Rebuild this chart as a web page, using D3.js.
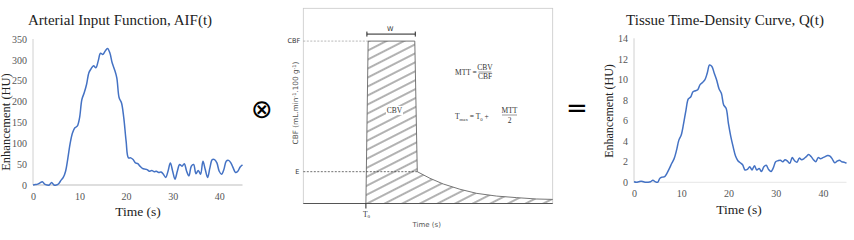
<!DOCTYPE html>
<html>
<head>
<meta charset="utf-8">
<script src="https://cdn.jsdelivr.net/npm/d3@7"></script>
<style>
  body { margin: 0; background: #fff; }
  svg { display: block; }
</style>
</head>
<body>
<svg width="854" height="240"></svg>
<script>
// time samples (s), shared by both measured curves
const timeSec = [0,0.5,1,1.5,2,2.5,3,3.5,4,4.5,5,5.5,6,6.5,7,7.5,8,8.5,9,9.5,
  10,10.5,11,11.5,12,12.5,13,13.5,14,14.5,15,15.5,16,16.5,17,17.5,18,18.5,19,19.5,
  20,20.5,21,21.5,22,22.5,23,23.5,24,24.5,25,25.5,26,26.5,27,27.5,28,28.5,29,29.5,
  30,30.5,31,31.5,32,32.5,33,33.5,34,34.5,35,35.5,36,36.5,37,37.5,38,38.5,39,39.5,
  40,40.5,41,41.5,42,42.5,43,43.5,44,44.5,45];

// AIF enhancement (HU)
const aifValues = [0,1,2,5,8,2,0,0,6,0,0,3,11,18,33,65,101,125,137,141,
  161,205,221,241,269,279,286,281,297,316,313,321,327,317,293,277,257,209,197,161,
  105,65,65,61,53,51,45,40,38,37,33,35,32,33,30,31,26,18,33,53,
  33,14,33,49,45,51,33,22,45,49,27,35,26,57,37,18,41,61,61,53,
  33,26,37,57,59,53,41,30,33,43,48];

// tissue enhancement (HU)
const tissueValues = [0.05,0,0.05,0.1,0.05,0,0,0.05,0.2,0.05,0,0.4,0.5,0.55,0.9,1.35,1.85,2.3,3.1,4.1,
  4.6,5.7,7.0,8.1,8.3,8.8,8.9,9.0,9.5,9.7,9.95,10.6,11.4,11.25,10.6,9.95,9.1,8.65,7.5,7.2,
  5.7,4.45,3.45,2.55,2.1,1.9,1.7,1.2,1.25,1.5,1.2,1.6,1.2,1.35,1.05,1.5,1.65,1.25,1.05,1.4,
  2.0,2.1,2.15,2.0,2.2,2.05,1.85,2.4,2.1,1.95,2.35,2.2,2.3,2.5,2.7,2.5,2.2,2.0,2.4,2.3,
  2.4,2.5,2.6,2.55,2.25,1.9,2.05,2.15,2.0,1.95,1.85];

const aifTicksX = [0,10,20,30,40];
const aifTicksY = [0,50,100,150,200,250,300,350];
const tissueTicksX = [0,10,20,30,40];
const tissueTicksY = [0,2,4,6,8,10,12,14];

// residue function sketch (arbitrary units: time 0-100, flow 0-1)
const residueTime  = [25.1, 26.0, 44.7, 45.7, 50.8, 56.1, 62.8, 69.5, 77.5, 85.6, 93.6, 100];
const residueValue = [0, 0.832, 0.832, 0.163, 0.129, 0.100, 0.073, 0.052, 0.038, 0.030, 0.023, 0.021];
const t0 = 25.1, wEnd = 44.7, cbfLevel = 0.832, eLevel = 0.163;

const svg = d3.select('svg');
const blue = '#4472c4';
const serif = '"Liberation Serif", "Times New Roman", serif';
const sans = '"DejaVu Sans", Verdana, sans-serif';

svg.append('rect').attr('width', 854).attr('height', 240).attr('fill', '#fff');

function drawPanel(opt) {
  const x = d3.scaleLinear().domain([0, 45]).range(opt.xr);
  const y = d3.scaleLinear().domain([0, opt.ymax]).range(opt.yr);
  const g = svg.append('g');

  // axis lines
  g.append('line')
    .attr('x1', x(0)).attr('x2', x(0)).attr('y1', y(0)).attr('y2', y(opt.ymax))
    .attr('stroke', '#d0d0d0').attr('stroke-width', 1);
  g.append('line')
    .attr('x1', x(0)).attr('x2', x(45)).attr('y1', y(0)).attr('y2', y(0))
    .attr('stroke', opt.xAxisColor).attr('stroke-width', 1);

  const xAxis = g.append('g')
    .attr('transform', `translate(0,${y(0)})`)
    .call(d3.axisBottom(x).tickValues(opt.ticksX).tickSize(0).tickPadding(opt.xPad));
  const yAxis = g.append('g')
    .attr('transform', `translate(${x(0)},0)`)
    .call(d3.axisLeft(y).tickValues(opt.ticksY).tickSize(0).tickPadding(opt.yPad));
  [xAxis, yAxis].forEach(a => {
    a.select('.domain').remove();
    a.selectAll('text')
      .attr('font-family', serif).attr('font-size', 10).attr('fill', '#555');
  });

  const line = d3.line()
    .x((d, i) => x(timeSec[i]))
    .y(d => y(d))
    .curve(d3.curveCatmullRom.alpha(0.5));
  g.append('path')
    .datum(opt.values)
    .attr('fill', 'none')
    .attr('stroke', blue)
    .attr('stroke-width', 1.5)
    .attr('d', line);

  g.append('text')
    .attr('x', opt.titleX).attr('y', 25)
    .attr('text-anchor', 'middle')
    .attr('font-family', serif).attr('font-size', 15).attr('fill', '#222')
    .text(opt.title);
  g.append('text')
    .attr('x', opt.xLabelX).attr('y', opt.xLabelY)
    .attr('text-anchor', 'middle')
    .attr('font-family', serif).attr('font-size', 13.5).attr('fill', '#222')
    .text('Time (s)');
  g.append('text')
    .attr('transform', `translate(${opt.yLabelX},${opt.yLabelY}) rotate(-90)`)
    .attr('text-anchor', 'middle')
    .attr('font-family', serif).attr('font-size', opt.yLabelSize).attr('fill', '#222')
    .text('Enhancement (HU)');
}

drawPanel({
  xr: [33, 242.5], yr: [185, 39], ymax: 350,
  ticksX: aifTicksX, ticksY: aifTicksY, values: aifValues,
  xAxisColor: '#bdbdbd', xPad: 8, yPad: 6,
  title: 'Arterial Input Function, AIF(t)', titleX: 120,
  xLabelX: 138, xLabelY: 216,
  yLabelX: 10, yLabelY: 122, yLabelSize: 12.5
});

drawPanel({
  xr: [634, 846.5], yr: [182.3, 38.3], ymax: 14,
  ticksX: tissueTicksX, ticksY: tissueTicksY, values: tissueValues,
  xAxisColor: '#e6e6e6', xPad: 8, yPad: 6,
  title: 'Tissue Time-Density Curve, Q(t)', titleX: 725,
  xLabelX: 739, xLabelY: 214,
  yLabelX: 613, yLabelY: 111, yLabelSize: 12
});

// ---- middle: residue function sketch ----
const mx = d3.scaleLinear().domain([0, 100]).range([303.3, 552.7]);
const my = d3.scaleLinear().domain([0, 1]).range([203.5, 8.3]);
const mid = svg.append('g');

const defs = svg.append('defs');
defs.append('pattern')
  .attr('id', 'hatch')
  .attr('patternUnits', 'userSpaceOnUse')
  .attr('width', 8).attr('height', 8)
  .attr('patternTransform', 'rotate(-27)')
  .append('line')
  .attr('x1', 0).attr('x2', 8).attr('y1', 4).attr('y2', 4)
  .attr('stroke', '#222').attr('stroke-width', 0.7);

// frame
mid.append('rect')
  .attr('x', mx(0)).attr('y', my(1))
  .attr('width', mx(100) - mx(0)).attr('height', my(0) - my(1))
  .attr('fill', 'none').attr('stroke', '#c8c8c8').attr('stroke-width', 0.8);

const area = d3.area()
  .x((d, i) => mx(residueTime[i]))
  .y0(my(0))
  .y1(d => my(d));
mid.append('path')
  .datum(residueValue)
  .attr('fill', 'url(#hatch)')
  .attr('d', area);
mid.append('path')
  .datum(residueValue)
  .attr('fill', 'none')
  .attr('stroke', '#666').attr('stroke-width', 0.9)
  .attr('d', d3.line().x((d, i) => mx(residueTime[i])).y(d => my(d)).curve(d3.curveLinear));

// bottom axis
mid.append('line')
  .attr('x1', mx(0)).attr('x2', mx(100)).attr('y1', my(0)).attr('y2', my(0))
  .attr('stroke', '#555').attr('stroke-width', 1);

// dashed guides
mid.append('line')
  .attr('x1', mx(0)).attr('x2', mx(26.0)).attr('y1', my(cbfLevel)).attr('y2', my(cbfLevel))
  .attr('stroke', '#999').attr('stroke-width', 0.7).attr('stroke-dasharray', '2,1.5');
mid.append('line')
  .attr('x1', mx(0)).attr('x2', mx(45.7)).attr('y1', my(eLevel)).attr('y2', my(eLevel))
  .attr('stroke', '#333').attr('stroke-width', 0.7).attr('stroke-dasharray', '2,1.5');

// W bracket
const wy = my(cbfLevel) - 7;
mid.append('line')
  .attr('x1', mx(t0) + 1).attr('x2', mx(wEnd) + 0.5).attr('y1', wy).attr('y2', wy)
  .attr('stroke', '#222').attr('stroke-width', 1);
[mx(t0) + 1, mx(wEnd) + 0.5].forEach(px => {
  mid.append('line')
    .attr('x1', px).attr('x2', px).attr('y1', wy - 2.5).attr('y2', wy + 2.5)
    .attr('stroke', '#222').attr('stroke-width', 1);
});
mid.append('text')
  .attr('x', (mx(t0) + mx(wEnd)) / 2).attr('y', wy - 3)
  .attr('text-anchor', 'middle')
  .attr('font-family', sans).attr('font-size', 6.5).attr('fill', '#333')
  .text('W');

// T0 tick
mid.append('line')
  .attr('x1', mx(t0)).attr('x2', mx(t0)).attr('y1', my(0)).attr('y2', my(0) + 5)
  .attr('stroke', '#222').attr('stroke-width', 1);
const t0Label = mid.append('text')
  .attr('x', mx(t0) - 3).attr('y', my(0) + 13)
  .attr('font-family', serif).attr('font-size', 7.5).attr('fill', '#333');
t0Label.append('tspan').text('T');
t0Label.append('tspan').attr('font-size', 5).attr('dy', 1.5).text('0');

mid.append('text')
  .attr('x', 426.7).attr('y', 227)
  .attr('text-anchor', 'middle')
  .attr('font-family', sans).attr('font-size', 7).attr('fill', '#555')
  .text('Time (s)');

// level labels
mid.append('text')
  .attr('x', mx(0) - 3).attr('y', my(cbfLevel) + 2.3)
  .attr('text-anchor', 'end')
  .attr('font-family', sans).attr('font-size', 6.5).attr('fill', '#333')
  .text('CBF');
mid.append('text')
  .attr('x', mx(0) - 4).attr('y', my(eLevel) + 2.3)
  .attr('text-anchor', 'end')
  .attr('font-family', sans).attr('font-size', 6.5).attr('fill', '#333')
  .text('E');

// y label
const yl = mid.append('text')
  .attr('transform', `translate(${mx(0) - 5},103) rotate(-90)`)
  .attr('text-anchor', 'middle')
  .attr('font-family', sans).attr('font-size', 7.3).attr('fill', '#555');
yl.append('tspan').text('CBF (mL.min');
yl.append('tspan').attr('font-size', 5).attr('dy', -2.5).text('-1');
yl.append('tspan').attr('dy', 2.5).text('.100 g');
yl.append('tspan').attr('font-size', 5).attr('dy', -2.5).text('-1');
yl.append('tspan').attr('dy', 2.5).text(')');

// CBV label over the hatch
mid.append('rect')
  .attr('x', 386).attr('y', 106).attr('width', 17).attr('height', 9).attr('fill', '#fff');
mid.append('text')
  .attr('x', 394.5).attr('y', 113)
  .attr('text-anchor', 'middle')
  .attr('font-family', serif).attr('font-size', 7.5).attr('fill', '#333')
  .text('CBV');

// formulas
const f = mid.append('g').attr('font-family', serif).attr('font-size', 7.5).attr('fill', '#333');
f.append('text').attr('x', 455).attr('y', 74.5).text('MTT =');
f.append('text').attr('x', 485).attr('y', 69.5).attr('text-anchor', 'middle').text('CBV');
f.append('line').attr('x1', 478.5).attr('x2', 491.5).attr('y1', 72).attr('y2', 72)
  .attr('stroke', '#333').attr('stroke-width', 0.5);
f.append('text').attr('x', 485).attr('y', 79).attr('text-anchor', 'middle').text('CBF');

const tmax = f.append('text').attr('x', 455).attr('y', 119);
tmax.append('tspan').text('T');
tmax.append('tspan').attr('font-size', 4.8).attr('dy', 1.5).text('max');
tmax.append('tspan').attr('dy', -1.5).text(' = T');
tmax.append('tspan').attr('font-size', 4.8).attr('dy', 1.5).text('0');
tmax.append('tspan').attr('dy', -1.5).text(' +');
f.append('text').attr('x', 509.5).attr('y', 112.5).attr('text-anchor', 'middle').text('MTT');
f.append('line').attr('x1', 502).attr('x2', 517).attr('y1', 115).attr('y2', 115)
  .attr('stroke', '#333').attr('stroke-width', 0.5);
f.append('text').attr('x', 509.5).attr('y', 122.5).attr('text-anchor', 'middle').text('2');

// operators
svg.append('text')
  .attr('x', 262).attr('y', 117.5)
  .attr('text-anchor', 'middle')
  .attr('font-family', sans).attr('font-size', 26).attr('fill', '#000')
  .text('⊗');
svg.append('text')
  .attr('x', 577).attr('y', 117)
  .attr('text-anchor', 'middle')
  .attr('font-family', sans).attr('font-size', 26).attr('fill', '#000')
  .text('=');
</script>
</body>
</html>
